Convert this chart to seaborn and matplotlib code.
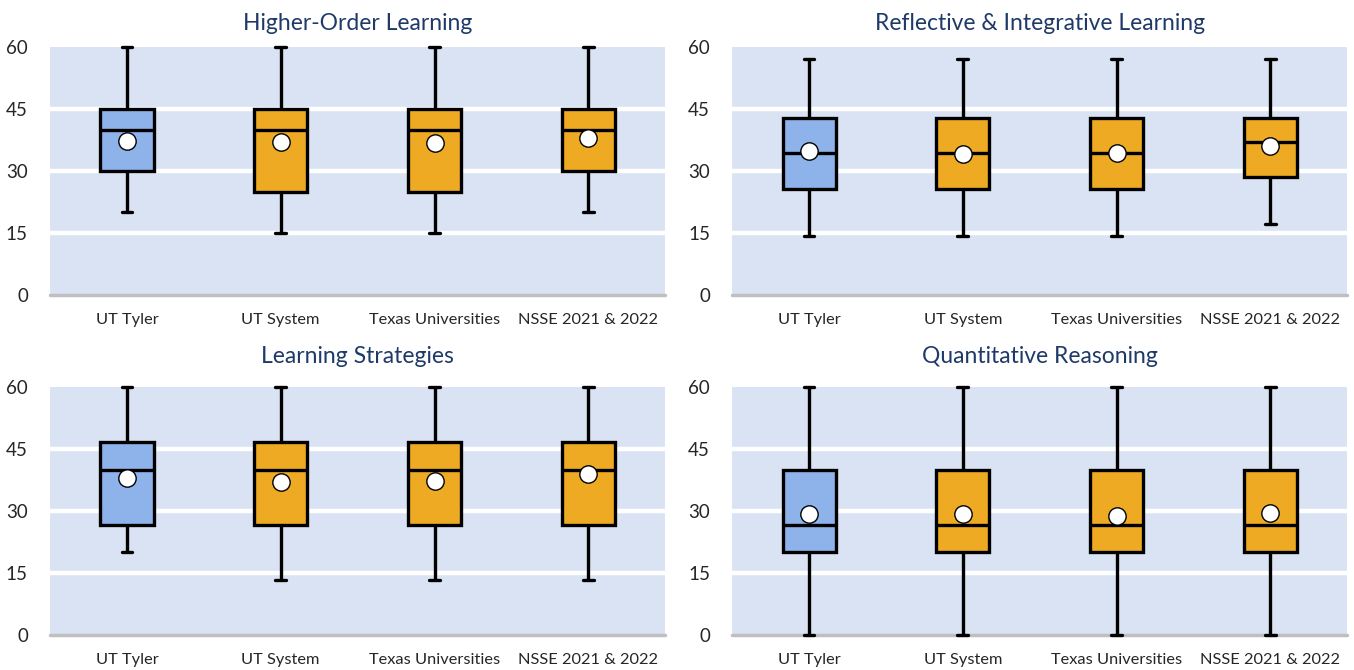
import pandas as pd
import seaborn as sns
import matplotlib.pyplot as plt

# groups compared in every panel
groups = ["UT Tyler", "UT System", "Texas Universities", "NSSE 2021 & 2022"]

titles = ["Higher-Order Learning", "Reflective & Integrative Learning",
          "Learning Strategies", "Quantitative Reasoning"]

# five-number summaries per panel, one value per group
ho_min = [20, 15, 15, 20]
ho_q1 = [30, 25, 25, 30]
ho_med = [40, 40, 40, 40]
ho_q3 = [45, 45, 45, 45]
ho_max = [60, 60, 60, 60]
ho_mean = [37.3, 37.1, 36.7, 37.9]

ri_min = [14.3, 14.3, 14.3, 17.1]
ri_q1 = [25.7, 25.7, 25.7, 28.6]
ri_med = [34.3, 34.3, 34.3, 37.1]
ri_q3 = [42.9, 42.9, 42.9, 42.9]
ri_max = [57.1, 57.1, 57.1, 57.1]
ri_mean = [34.8, 34.0, 34.3, 36.0]

ls_min = [20, 13.3, 13.3, 13.3]
ls_q1 = [26.7, 26.7, 26.7, 26.7]
ls_med = [40, 40, 40, 40]
ls_q3 = [46.7, 46.7, 46.7, 46.7]
ls_max = [60, 60, 60, 60]
ls_mean = [38.1, 37.1, 37.2, 38.9]

qr_min = [0, 0, 0, 0]
qr_q1 = [20, 20, 20, 20]
qr_med = [26.7, 26.7, 26.7, 26.7]
qr_q3 = [40, 40, 40, 40]
qr_max = [60, 60, 60, 60]
qr_mean = [29.4, 29.2, 28.7, 29.5]

panels = [
    (ho_min, ho_q1, ho_med, ho_q3, ho_max, ho_mean),
    (ri_min, ri_q1, ri_med, ri_q3, ri_max, ri_mean),
    (ls_min, ls_q1, ls_med, ls_q3, ls_max, ls_mean),
    (qr_min, qr_q1, qr_med, qr_q3, qr_max, qr_mean),
]

BLUE = "#8DB3EA"
ORANGE = "#EEAA22"
BG = "#DAE3F4"
NAVY = "#1F3A68"

sns.set_style("white")
plt.rcParams["font.family"] = ["Lato", "DejaVu Sans"]

fig, axes = plt.subplots(2, 2, figsize=(13.54, 6.7), dpi=100)
fig.subplots_adjust(left=0.037, right=0.995, top=0.93, bottom=0.052,
                    wspace=0.109, hspace=0.371)


def summary_df(mins, q1s, meds, q3s, maxs):
    # five points per group -> quartiles come out exactly at the summary values
    rows = []
    for g, a, b, c, d, e in zip(groups, mins, q1s, meds, q3s, maxs):
        for v in (a, b, c, d, e):
            rows.append({"group": g, "score": v})
    return pd.DataFrame(rows)


for i, (ax, title, stats) in enumerate(zip(axes.flat, titles, panels)):
    df = summary_df(*stats[:5])
    ax.set_facecolor(BG)
    for yv in (15, 30, 45):
        ax.axhline(yv, color="white", lw=3.2, zorder=1)
    ax.axhline(0, color="#BFBFBF", lw=2.5, zorder=1, clip_on=False)

    sns.boxplot(data=df, x="group", y="score", hue="group", order=groups,
                palette=[BLUE, ORANGE, ORANGE, ORANGE], legend=False,
                saturation=1, whis=(0, 100), width=0.345, linewidth=2.4,
                linecolor="black", capwidths=0.07, ax=ax, zorder=3)
    for art in ax.lines + ax.patches:
        art.set_clip_on(False)

    mdf = pd.DataFrame({"group": groups, "mean": stats[5]})
    sns.stripplot(data=mdf, x="group", y="mean", order=groups, jitter=False,
                  color="white", edgecolor="black", linewidth=1, size=12.5,
                  ax=ax, zorder=5, clip_on=False)

    ax.set_ylim(0, 60)
    ax.set_xlim(-0.5, 3.5)
    ax.set_yticks([0, 15, 30, 45, 60])
    ax.tick_params(axis="y", length=0, labelsize=13.5, pad=16)
    ax.tick_params(axis="x", length=0, labelsize=11.8, pad=13)
    ax.set_xlabel("")
    ax.set_ylabel("")
    for s in ax.spines.values():
        s.set_visible(False)
    ax.set_title(title, color=NAVY, fontsize=16.5, pad=12 if i < 2 else 17)

fig.savefig("out.png", dpi=100)
